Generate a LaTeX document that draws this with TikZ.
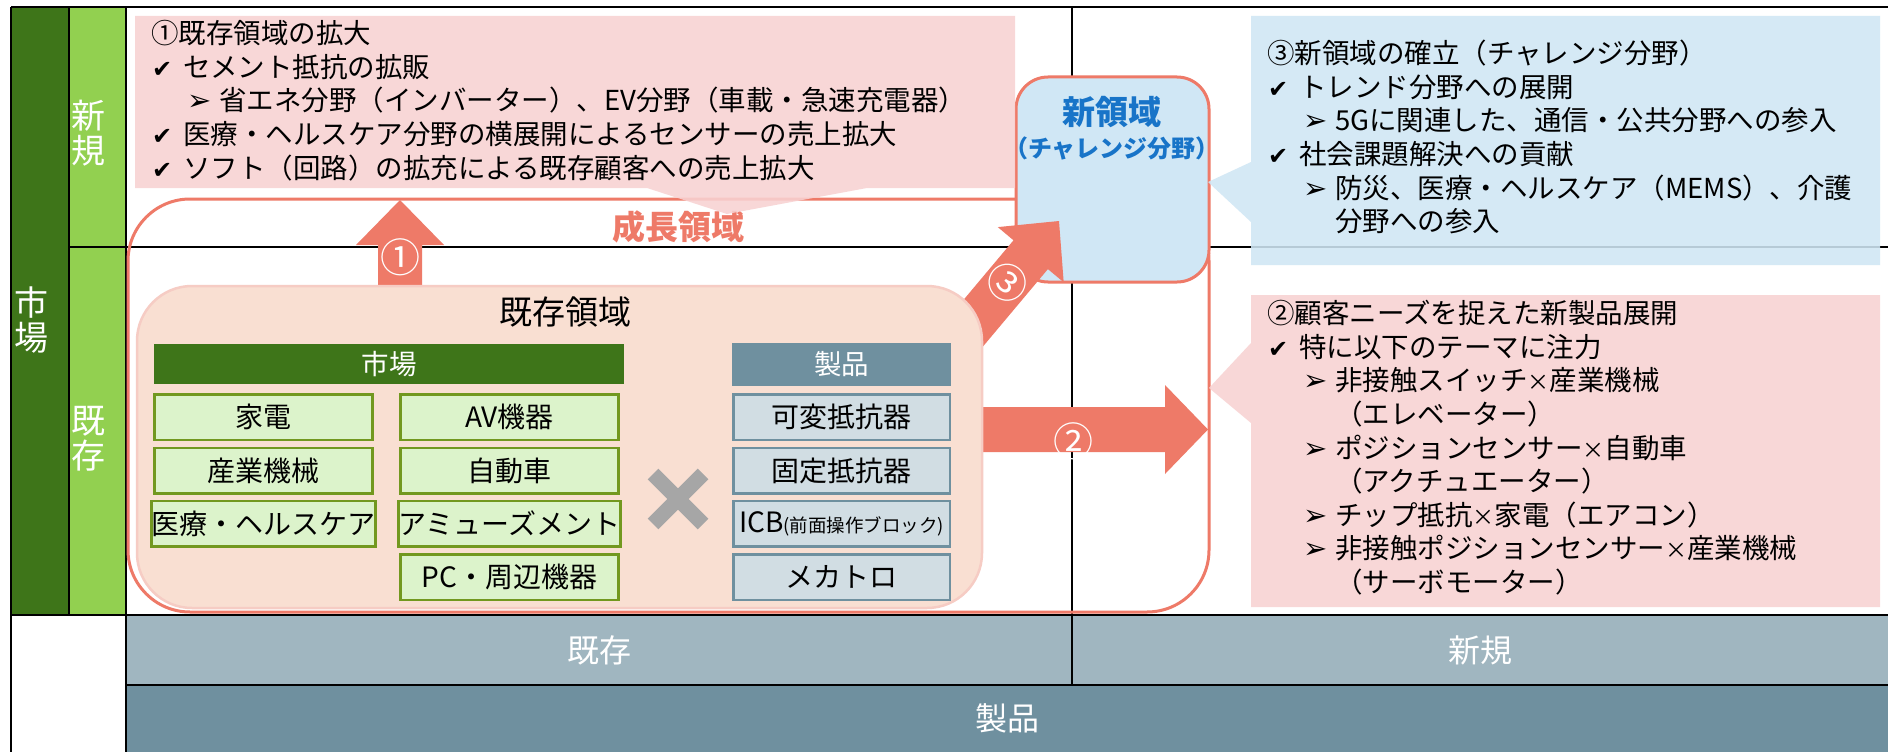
\documentclass[tikz,border=0pt]{standalone}
\usepackage{fontspec}
\newfontfamily\jp{Noto Sans CJK JP}
\newfontfamily\sym{DejaVu Sans}
\definecolor{dkgreen}{HTML}{3E7519}
\definecolor{ltgreen}{HTML}{92D050}
\definecolor{salmon}{HTML}{EE7A68}
\definecolor{peach}{HTML}{F9DFD2}
\definecolor{peachborder}{HTML}{F6CCC4}
\definecolor{cellgreen}{HTML}{DCF3CB}
\definecolor{olive}{HTML}{72981F}
\definecolor{slate}{HTML}{6F909F}
\definecolor{cellslate}{HTML}{D1DDE3}
\definecolor{lightslate}{HTML}{A0B6C0}
\definecolor{pinkc}{HTML}{F8D2D2}
\definecolor{bluec}{HTML}{D0E6F4}
\definecolor{newblue}{HTML}{D0E7F5}
\definecolor{bluetext}{HTML}{1874C8}
\definecolor{xgray}{HTML}{A6A6A6}
\newcommand\mysst{\rule{0pt}{24.75pt}}
\newcommand\mkck{\makebox[32pt][l]{\hspace{1pt}{\sym\fontsize{24}{24}\selectfont ✔}}}
\newcommand\mkar{\hspace*{36pt}\makebox[32pt][l]{{\sym\fontsize{29}{29}\selectfont ➢}}}
\newcommand\mkind{\hspace*{68pt}}
\newcommand\mytimes{\makebox[22pt]{\fontsize{22}{22}\selectfont ×}}
\tikzset{
  gridline/.style={black, line width=2pt},
  calltext/.style={anchor=north west, inner sep=0pt, align=left, font=\jp\fontsize{27.5}{33.6}\selectfont},
  mcell/.style={draw=olive, line width=2.5pt, fill=cellgreen, minimum width=218pt, minimum height=45.5pt, inner sep=0pt, font=\jp\fontsize{28}{30}\selectfont},
  pcell/.style={draw=slate, line width=2.5pt, fill=cellslate, minimum width=216.5pt, minimum height=45.5pt, inner sep=0pt, font=\jp\fontsize{28}{30}\selectfont},
  vlabel/.style={white, align=center, inner sep=0pt, font=\jp\fontsize{34}{35}\selectfont},
  circnum/.style={white, inner sep=0pt, font=\jp\fontsize{40}{40}\selectfont},
  band/.style={inner sep=0pt, text=white, font=\jp\fontsize{32}{34}\selectfont},
}
\begin{document}
\begin{tikzpicture}[x=1pt,y=-1pt]
\useasboundingbox[fill=white] (0,0) rectangle (1888,752);

% left columns
\fill[dkgreen] (11,7) rectangle (69,615);
\fill[ltgreen] (69,7) rectangle (126,615);

% bottom bands
\node[band, fill=lightslate, minimum width=946pt, minimum height=70pt] (bk) at (599,650) {既存};
\node[band, fill=lightslate, minimum width=816pt, minimum height=70pt] (bn) at (1480,650) {新規};
\node[band, fill=slate, minimum width=1762pt, minimum height=67pt] (bp) at (1007,718.5) {製品};

% grid
\draw[gridline] (11,7) -- (1888,7);
\draw[gridline] (11,7) -- (11,752);
\draw[gridline] (69,7) -- (69,615);
\draw[gridline] (126,7) -- (126,752);
\draw[gridline] (69,247) -- (1888,247);
\draw[gridline] (1072,7) -- (1072,685);
\draw[gridline, line width=2.6pt] (11,615) -- (1888,615);
\draw[gridline, line width=2.6pt] (126,685) -- (1888,685);

% vertical labels
\node[vlabel] (lm) at (31,320) {市\\場};
\node[vlabel] (ln) at (88,133.5) {新\\規};
\node[vlabel] (le) at (88,439) {既\\存};

% growth region
\node[draw=salmon, line width=3pt, rounded corners=62pt, minimum width=1081pt, minimum height=413pt, inner sep=0pt] (growth) at (668.5,405.5) {};
\node[text=salmon, inner sep=0pt, font=\jp\bfseries\fontsize{33}{34}\selectfont] (growthlbl) at (678,227) {成長領域};

% new region box
\node[draw=salmon, line width=3pt, fill=newblue, rounded corners=32pt, minimum width=193pt, minimum height=205pt, inner sep=0pt] (newbox) at (1112.5,179.5) {};
\node[text=bluetext, inner sep=0pt, font=\jp\bfseries\fontsize{33}{34}\selectfont] (newlbl) at (1112,112) {新領域};
\node[text=bluetext, inner sep=0pt, font=\jp\bfseries\fontsize{24}{26}\selectfont] (newsub) at (1112,148) {（チャレンジ分野）};

% block arrows
\fill[salmon] (378,300) -- (378,245) -- (356,245) -- (400,200) -- (444,245) -- (422,245) -- (422,300) -- cycle;
\fill[salmon] (975,407) -- (1165,407) -- (1165,385) -- (1208,429.5) -- (1165,474) -- (1165,452) -- (975,452) -- cycle;
\fill[salmon] (1059,221) -- (1063.7,282.3) -- (1047.9,269.1) -- (970.8,361.0) -- (936.4,332.2) -- (1013.5,240.3) -- (997.8,227.1) -- cycle;

% existing region box
\node[draw=peachborder, line width=2.5pt, fill=peach, rounded corners=55pt, minimum width=845pt, minimum height=322pt, inner sep=0pt] (kizon) at (559.5,447) {};
\node[inner sep=0pt, font=\jp\fontsize{33}{34}\selectfont] (kizonlbl) at (565,312) {既存領域};

% market header and cells
\node[fill=dkgreen, text=white, minimum width=470pt, minimum height=40pt, inner sep=0pt, font=\jp\fontsize{27.5}{30}\selectfont] (mh) at (389,364) {市場};
\node[mcell] (m1) at (263.5,417) {家電};
\node[mcell] (m2) at (263.5,470.5) {産業機械};
\node[mcell] (m3) at (263.5,523.5) {医療・ヘルスケア};
\node[mcell] (m4) at (509.5,417) {AV機器};
\node[mcell] (m5) at (509.5,470.5) {自動車};
\node[mcell] (m6) at (509.5,523.5) {アミューズメント};
\node[mcell] (m7) at (509.5,577) {PC・周辺機器};

% product header and cells
\node[fill=slate, text=white, minimum width=219pt, minimum height=43pt, inner sep=0pt, font=\jp\fontsize{27.5}{30}\selectfont] (ph) at (841.5,364) {製品};
\node[pcell] (p1) at (841.5,417) {可変抵抗器};
\node[pcell] (p2) at (841.5,470.5) {固定抵抗器};
\node[pcell] (p3) at (841.5,523.5) {ICB{\fontsize{18.5}{20}\selectfont(前面操作ブロック)}};
\node[pcell] (p4) at (841.5,577) {メカトロ};

% cross mark
\draw[xgray, line width=15pt] (653,474) -- (703,524) (653,524) -- (703,474);

% callouts
\fill[pinkc, fill opacity=0.88] (135,16) -- (1015,16) -- (1015,188) -- (867,188) -- (727,214) -- (647,188) -- (135,188) -- cycle;
\fill[bluec, fill opacity=0.88] (1251,16) -- (1880,16) -- (1880,265) -- (1251,265) -- (1251,222) -- (1208,182) -- (1251,162) -- cycle;
\fill[pinkc, fill opacity=0.88] (1251,295) -- (1880,295) -- (1880,607) -- (1251,607) -- (1251,423) -- (1209,388) -- (1251,343) -- cycle;

\node[calltext] (c1) at (151,18.7) {\mysst①既存領域の拡大\\
\mkck セメント抵抗の拡販\\
\mkar 省エネ分野（インバーター）、EV分野（車載・急速充電器）\\
\mkck 医療・ヘルスケア分野の横展開によるセンサーの売上拡大\\
\mkck ソフト（回路）の拡充による既存顧客への売上拡大};

\node[calltext] (c3) at (1267,38.7) {\mysst③新領域の確立（チャレンジ分野）\\
\mkck トレンド分野への展開\\
\mkar 5Gに関連した、通信・公共分野への参入\\
\mkck 社会課題解決への貢献\\
\mkar 防災、医療・ヘルスケア（MEMS）、介護\\
\mkind 分野への参入};

\node[calltext] (c2) at (1267,298.7) {\mysst②顧客ニーズを捉えた新製品展開\\
\mkck 特に以下のテーマに注力\\
\mkar 非接触スイッチ\mytimes 産業機械\\
\mkind （エレベーター）\\
\mkar ポジションセンサー\mytimes 自動車\\
\mkind （アクチュエーター）\\
\mkar チップ抵抗\mytimes 家電（エアコン）\\
\mkar 非接触ポジションセンサー\mytimes 産業機械\\
\mkind （サーボモーター）};

% circled numbers on arrows
\node[circnum] (n1) at (400,257) {①};
\node[circnum] (n2) at (1073,441) {②};
\node[circnum, rotate=-40] (n3) at (1008,283) {③};
\end{tikzpicture}
\end{document}
